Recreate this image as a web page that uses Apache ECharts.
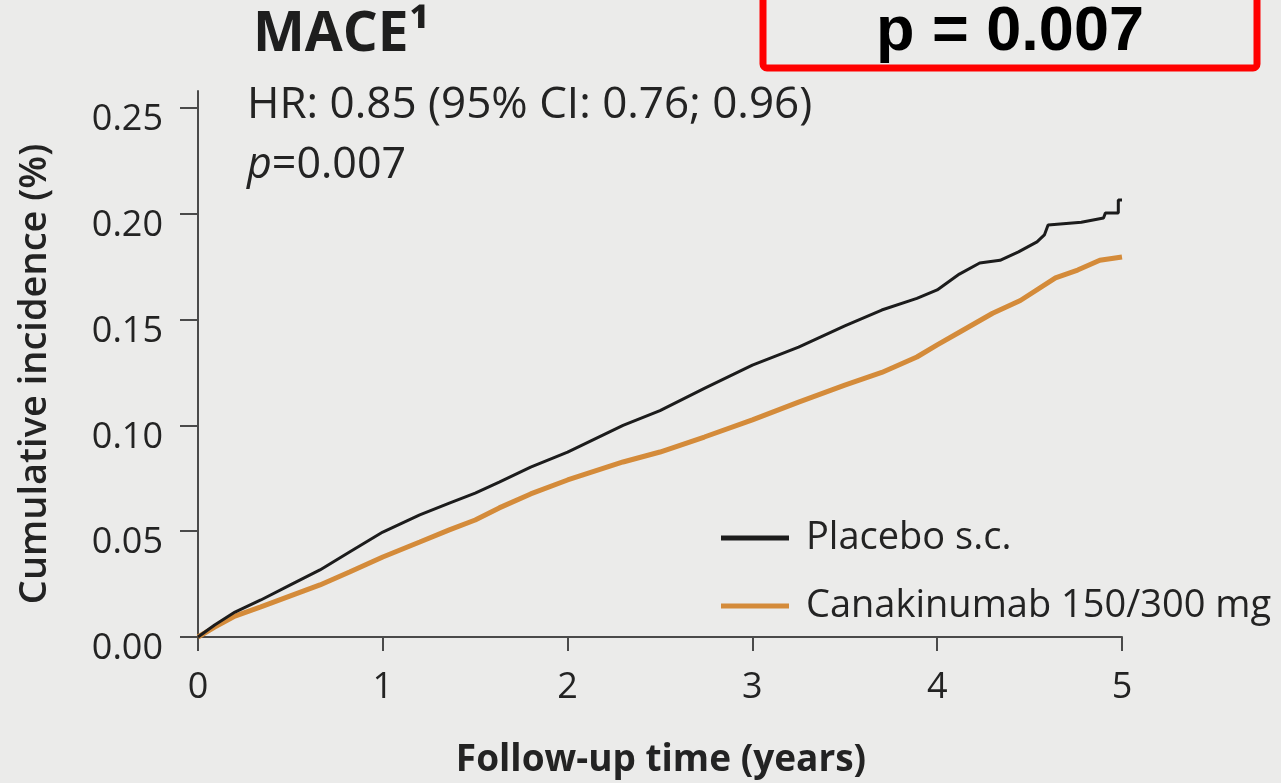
<!DOCTYPE html>
<html>
<head>
<meta charset="utf-8">
<script src="https://cdn.jsdelivr.net/npm/echarts@6/dist/echarts.min.js"></script>
<style>
  html, body { margin: 0; padding: 0; background: #ebebea; }
  #chart { width: 1281px; height: 783px; }
</style>
</head>
<body>
<div id="chart"></div>
<script>
// ---- data ----
const seriesNames = ['Placebo s.c.', 'Canakinumab 150/300 mg'];
const placeboTime = [0, 0.09, 0.2, 0.34, 0.5, 0.66, 0.82, 1.0, 1.2, 1.36, 1.5, 1.63, 1.8, 2.0, 2.3, 2.5, 2.74, 3.0, 3.25, 3.5, 3.7, 3.89, 4.0, 4.12, 4.23, 4.34, 4.44, 4.54, 4.58, 4.6, 4.78, 4.9, 4.91, 4.98, 4.98, 5.0];
const placeboValue = [0, 0.0057, 0.0118, 0.0175, 0.0246, 0.0317, 0.0402, 0.0496, 0.0577, 0.0633, 0.068, 0.0732, 0.0803, 0.0874, 0.100, 0.107, 0.1175, 0.1285, 0.137, 0.147, 0.1545, 0.160, 0.164, 0.1715, 0.1767, 0.178, 0.182, 0.1867, 0.190, 0.1947, 0.196, 0.198, 0.2004, 0.2004, 0.2065, 0.2065];
const canaTime = [0, 0.09, 0.2, 0.34, 0.5, 0.66, 0.82, 1.0, 1.2, 1.36, 1.5, 1.63, 1.8, 2.0, 2.3, 2.5, 2.74, 3.0, 3.25, 3.5, 3.7, 3.89, 4.0, 4.12, 4.3, 4.45, 4.64, 4.76, 4.88, 5.0];
const canaValue = [0, 0.0047, 0.0099, 0.0142, 0.0194, 0.0246, 0.0307, 0.0378, 0.0449, 0.0506, 0.0553, 0.061, 0.0676, 0.0742, 0.0827, 0.0874, 0.0945, 0.1026, 0.111, 0.119, 0.125, 0.1323, 0.138, 0.144, 0.153, 0.159, 0.1697, 0.1734, 0.178, 0.1796];
const yTicks = [0, 0.05, 0.10, 0.15, 0.20, 0.25];
const xTicks = [0, 1, 2, 3, 4, 5];
const titleText = 'MACE\u00B9';
const hrText = 'HR: 0.85 (95% CI: 0.76; 0.96)';
const pValueText = '0.007';
const boxText = 'p = 0.007';
const yTitle = 'Cumulative incidence (%)';
const xTitle = 'Follow-up time (years)';

const zip = (a, b) => a.map((v, i) => [v, b[i]]);

const FONT = '"Open Sans", "Noto Sans", sans-serif';
const TXT = '#232323';
const AX = '#4a4a4a';

const chart = echarts.init(document.getElementById('chart'), null, { renderer: 'canvas' });

chart.setOption({
  backgroundColor: '#ebebea',
  animation: false,
  grid: { left: 198, right: 159, top: 91, bottom: 146, containLabel: false },
  xAxis: {
    type: 'value', min: 0, max: 5, interval: 1,
    axisLine: { onZero: false, lineStyle: { color: AX, width: 2 } },
    axisTick: { show: true, length: 14, lineStyle: { color: AX, width: 2 }, customValues: xTicks },
    axisLabel: { customValues: xTicks, margin: 33, fontFamily: FONT, fontSize: 36, color: TXT, verticalAlign: 'top' },
    splitLine: { show: false }
  },
  yAxis: {
    type: 'value', min: 0, max: 0.258,
    axisLine: { show: true, lineStyle: { color: AX, width: 2 } },
    axisTick: { show: true, length: 18, lineStyle: { color: AX, width: 2 }, customValues: yTicks },
    axisLabel: {
      customValues: yTicks, margin: 35, fontFamily: FONT, fontSize: 36, color: TXT,
      verticalAlign: 'top', lineHeight: 24,
      formatter: v => v.toFixed(2)
    },
    splitLine: { show: false }
  },
  legend: {
    data: seriesNames,
    orient: 'vertical',
    left: 716, top: 512,
    itemWidth: 68, itemHeight: 5, itemGap: 26,
    icon: 'rect',
    textStyle: { fontFamily: FONT, fontSize: 38, color: TXT, lineHeight: 42, padding: [0, 0, 0, 12] }
  },
  series: [
    {
      name: seriesNames[1], type: 'line', data: zip(canaTime, canaValue),
      showSymbol: false, symbol: 'none', z: 2,
      itemStyle: { color: '#d48b3a' },
      lineStyle: { color: '#d48b3a', width: 5 }
    },
    {
      name: seriesNames[0], type: 'line', data: zip(placeboTime, placeboValue),
      showSymbol: false, symbol: 'none', z: 3,
      itemStyle: { color: '#1c1c1c' },
      lineStyle: { color: '#1c1c1c', width: 3 }
    }
  ],
  graphic: [
    {
      type: 'text', silent: true, x: 253, y: 35,
      style: { text: titleText, fontFamily: FONT, fontWeight: 'bold', fontSize: 55, fill: '#1e1e1e', verticalAlign: 'middle' }
    },
    {
      type: 'text', silent: true, x: 247, y: 105,
      style: { text: hrText, fontFamily: FONT, fontSize: 44, fill: TXT, verticalAlign: 'middle' }
    },
    {
      type: 'text', silent: true, x: 247, y: 166,
      style: {
        text: '{i|p}=' + pValueText, fontFamily: FONT, fontSize: 43, fill: TXT, verticalAlign: 'middle',
        rich: { i: { fontFamily: FONT, fontSize: 43, fontStyle: 'italic', fill: TXT } }
      }
    },
    {
      type: 'rect', silent: true,
      shape: { x: 763, y: -20, width: 494, height: 88, r: 4 },
      style: { fill: 'none', stroke: '#ff0000', lineWidth: 7 }
    },
    {
      type: 'text', silent: true, x: 1010, y: 33,
      style: { text: boxText, fontFamily: '"Liberation Sans", Arial, sans-serif', fontWeight: 'bold', fontSize: 63, fill: '#000', align: 'center', verticalAlign: 'middle' }
    },
    {
      type: 'text', silent: true, x: 35, y: 374, rotation: Math.PI / 2,
      style: { text: yTitle, fontFamily: FONT, fontWeight: 600, fontSize: 38, fill: TXT, align: 'center', verticalAlign: 'middle' }
    },
    {
      type: 'text', silent: true, x: 661, y: 760,
      style: { text: xTitle, fontFamily: FONT, fontWeight: 'bold', fontSize: 37, fill: TXT, align: 'center', verticalAlign: 'middle' }
    }
  ]
});
</script>
</body>
</html>
